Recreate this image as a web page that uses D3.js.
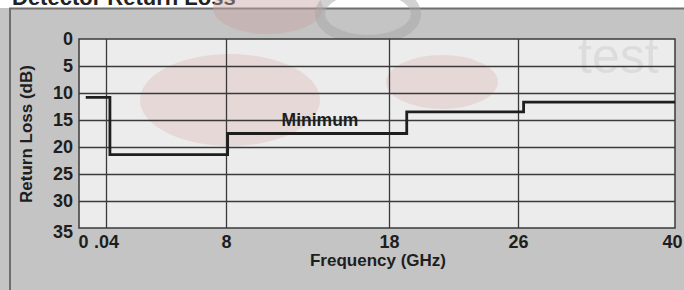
<!DOCTYPE html>
<html>
<head>
<meta charset="utf-8">
<script src="https://cdn.jsdelivr.net/npm/d3@7"></script>
<style>
  body { margin: 0; background: #fff; }
  svg { display: block; font-family: "Liberation Sans", Arial, sans-serif; }
</style>
</head>
<body>
<svg id="chart"></svg>
<script>
// frequency ticks (GHz) - the axis is drawn piecewise between them
const freqTicks = [0, 0.04, 8, 18, 26, 40];
const freqLabels = ['0', '.04', '8', '18', '26', '40'];
const lossTicks = [0, 5, 10, 15, 20, 25, 30, 35];

// minimum return loss, step segments
const stepStart = [0.01, 0.3, 8.1, 19.1, 26.5];
const stepEnd = [0.3, 8.1, 19.1, 26.5, 40];
const stepLoss = [10.8, 21.4, 17.5, 13.5, 11.7];

const width = 684;
const height = 290;

const svg = d3.select('#chart')
  .attr('width', width)
  .attr('height', height);

// scanned panel background
svg.append('rect')
  .attr('x', 0).attr('y', 8)
  .attr('width', width).attr('height', height - 8)
  .attr('fill', '#c4c4c4');
svg.append('path')
  .attr('d', `M10,${height} V8.5 H${width}`)
  .attr('fill', 'none')
  .attr('stroke', '#6e6e6e')
  .attr('stroke-width', 2);

// title, cut off by the top of the picture
svg.append('text')
  .attr('x', 12).attr('y', 5)
  .style('font-size', '22px')
  .style('font-weight', 'bold')
  .style('fill', '#222')
  .text('Detector Return Loss');

// watermark bits on the grey
svg.append('ellipse')
  .attr('cx', 268).attr('cy', 8).attr('rx', 55).attr('ry', 26)
  .attr('fill', '#c9a3a3').attr('opacity', 0.45);
svg.append('ellipse')
  .attr('cx', 368).attr('cy', 14).attr('rx', 48).attr('ry', 26)
  .attr('fill', 'none').attr('stroke', '#a5a5a5').attr('stroke-width', 10).attr('opacity', 0.5);

const x = d3.scaleLinear()
  .domain(freqTicks)
  .range([79, 106, 226, 389, 518, 675]);

const y = d3.scaleLinear()
  .domain([0, 35])
  .range([39, 228]);

const plot = svg.append('g');

plot.append('rect')
  .attr('x', x(0)).attr('y', y(0))
  .attr('width', x(40) - x(0)).attr('height', y(35) - y(0))
  .attr('fill', '#ececec');

svg.append('clipPath').attr('id', 'plotClip')
  .append('rect')
  .attr('x', x(0)).attr('y', y(0))
  .attr('width', x(40) - x(0)).attr('height', y(35) - y(0));

const marks = plot.append('g').attr('clip-path', 'url(#plotClip)');

// pink scan blobs inside the plot
marks.append('ellipse')
  .attr('cx', 230).attr('cy', 100).attr('rx', 90).attr('ry', 46)
  .attr('fill', '#e2c4c4').attr('opacity', 0.5);
marks.append('ellipse')
  .attr('cx', 442).attr('cy', 82).attr('rx', 56).attr('ry', 27)
  .attr('fill', '#e2c4c4').attr('opacity', 0.5);
marks.append('text')
  .attr('x', 578).attr('y', 73)
  .style('font-size', '50px')
  .style('fill', '#dcdcdc')
  .text('test');

// grid
const xGrid = d3.axisBottom(x)
  .tickValues(freqTicks.slice(1, -1))
  .tickSize(-(y(35) - y(0)))
  .tickFormat('');

plot.append('g')
  .attr('transform', `translate(0,${y(35)})`)
  .call(xGrid)
  .call(g => g.select('.domain').remove())
  .selectAll('line')
  .attr('stroke', '#3a3a3a')
  .attr('stroke-width', 1.3);

const yGrid = d3.axisLeft(y)
  .tickValues(lossTicks.slice(1, -1))
  .tickSize(-(x(40) - x(0)))
  .tickFormat('');

plot.append('g')
  .attr('transform', `translate(${x(0)},0)`)
  .call(yGrid)
  .call(g => g.select('.domain').remove())
  .selectAll('line')
  .attr('stroke', '#3a3a3a')
  .attr('stroke-width', 1.3);

plot.append('rect')
  .attr('x', x(0)).attr('y', y(0))
  .attr('width', x(40) - x(0)).attr('height', y(35) - y(0))
  .attr('fill', 'none')
  .attr('stroke', '#3a3a3a')
  .attr('stroke-width', 1.5);

// the step line
const pts = [];
stepLoss.forEach((v, i) => {
  pts.push([stepStart[i], v]);
  pts.push([stepEnd[i], v]);
});

const line = d3.line()
  .x(d => x(d[0]))
  .y(d => y(d[1]));

plot.append('path')
  .datum(pts)
  .attr('d', line)
  .attr('fill', 'none')
  .attr('stroke', '#1e1e1e')
  .attr('stroke-width', 2.8);

plot.append('text')
  .attr('x', 320).attr('y', y(15))
  .attr('dy', '.35em')
  .attr('text-anchor', 'middle')
  .style('font-size', '17.5px')
  .style('font-weight', 'bold')
  .style('fill', '#1e1e1e')
  .text('Minimum');

// axes
const xAxis = d3.axisBottom(x)
  .tickValues(freqTicks)
  .tickSize(0)
  .tickPadding(7)
  .tickFormat((d, i) => freqLabels[i]);

svg.append('g')
  .attr('transform', `translate(0,${y(35)})`)
  .call(xAxis)
  .call(g => g.select('.domain').remove())
  .selectAll('text')
  .attr('dx', (d, i) => i === 0 ? 4 : (i === freqTicks.length - 1 ? -3 : 0))
  .style('font-size', '18px')
  .style('font-weight', 'bold')
  .style('fill', '#1e1e1e')
  .style('font-family', '"Liberation Sans", Arial, sans-serif');

const yAxis = d3.axisLeft(y)
  .tickValues(lossTicks)
  .tickSize(0)
  .tickPadding(6);

svg.append('g')
  .attr('transform', `translate(${x(0)},0)`)
  .call(yAxis)
  .call(g => g.select('.domain').remove())
  .selectAll('text')
  .attr('dy', (d, i) => i === lossTicks.length - 1 ? '.5em' : '.32em')
  .style('font-size', '18px')
  .style('font-weight', 'bold')
  .style('fill', '#1e1e1e')
  .style('font-family', '"Liberation Sans", Arial, sans-serif');

svg.append('text')
  .attr('x', 378).attr('y', 266)
  .attr('text-anchor', 'middle')
  .style('font-size', '17px')
  .style('font-weight', 'bold')
  .style('fill', '#1e1e1e')
  .text('Frequency (GHz)');

svg.append('text')
  .attr('transform', 'translate(32,134) rotate(-90)')
  .attr('text-anchor', 'middle')
  .style('font-size', '17px')
  .style('font-weight', 'bold')
  .style('fill', '#1e1e1e')
  .text('Return Loss (dB)');
</script>
</body>
</html>
